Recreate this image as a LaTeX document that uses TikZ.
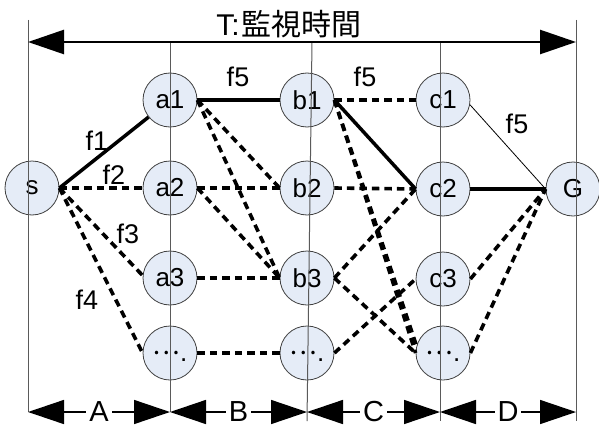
\documentclass[tikz,border=0pt]{standalone}
\usepackage{fontspec}
\setmainfont{Liberation Sans}
\newfontfamily\cjk{Noto Sans CJK JP}
\usetikzlibrary{arrows.meta}
\definecolor{nodefill}{RGB}{229,236,247}
\definecolor{rulegray}{RGB}{90,90,90}

% text of the open-ended stations: centred dots, then a low period
\newcommand{\moredots}{\smash{{\cjk\raisebox{-1pt}{…}}\raisebox{-8pt}{.}}}

\tikzset{
  stn/.style={circle, draw=black!75, line width=0.8pt, fill=nodefill,
    minimum size=54pt, inner sep=0pt, font=\fontsize{26}{30}\selectfont},
  route/.style={line width=3.5pt},
  alt/.style={line width=3.6pt, dash pattern=on 7.5pt off 5pt},
  thinroute/.style={line width=0.8pt},
  divider/.style={draw=rulegray, line width=1pt},
  flow/.style={font=\fontsize{27}{30}\selectfont, inner sep=0pt},
  bigtip/.tip={Triangle[length=36pt,width=24pt]},
  spanarrow/.style={line width=1.5pt, bigtip-bigtip},
  toparrow/.style={line width=2.5pt, bigtip-bigtip},
  seglabel/.style={fill=white, inner xsep=3pt, inner ysep=0pt,
    font=\fontsize{29}{30}\selectfont},
}

\begin{document}
\begin{tikzpicture}[x=1pt, y=-1pt]
\useasboundingbox (0,0) rectangle (599,428);

% stations
\node[stn] (s)  at (32,188)  {s};
\node[stn] (a1) at (170,100) {a1};
\node[stn] (a2) at (170,188) {a2};
\node[stn] (a3) at (170,278) {a3};
\node[stn] (a4) at (170,353) {\moredots};
\node[stn] (b1) at (307,100) {b1};
\node[stn] (b2) at (307,188) {b2};
\node[stn] (b3) at (307,278) {b3};
\node[stn] (b4) at (307,353) {\moredots};
\node[stn] (c1) at (443,100) {c1};
\node[stn] (c2) at (443,189) {c2};
\node[stn] (c3) at (443,279) {c3};
\node[stn] (c4) at (443,353) {\moredots};
\node[stn] (G)  at (573,189) {G};

% chosen route
\draw[route] (s.east) -- (a1);
\draw[route] (a1.east) -- (b1.west);
\draw[route] (b1.east) -- (c2.west);
\draw[route] (c2.east) -- (G.west);
\draw[thinroute] (c1.-10) -- (G.west);

% alternative routes
\draw[alt] (s.east) -- (a2.west);
\draw[alt] (s.east) -- (a3.175);
\draw[alt] (s.east) -- (a4.west);
\draw[alt] (a1.east) -- (b2.west);
\draw[alt] (a1.east) -- (b3.west);
\draw[alt] (a2.east) -- (b2.west);
\draw[alt] (a2.east) -- (b3.west);
\draw[alt] (a3.east) -- (b3.west);
\draw[alt] (a4.east) -- (b4.west);
\draw[alt] (b1.east) -- (c1.west);
\draw[alt] (b1.east) -- (c4.west);
\draw[alt] (b1.east) -- (c4.165);
\draw[alt] (b2.east) -- (c2.west);
\draw[alt] (b3.east) -- (c2.west);
\draw[alt] (b3.east) -- (c4.west);
\draw[alt] (b4.east) -- (c3.west);
\draw[alt] (c3.east) -- (G.west);
\draw[alt] (c4.east) -- (G.west);

% flow labels
\node[flow] (f1)  at (97,141)  {f1};
\node[flow] (f2)  at (114,175) {f2};
\node[flow] (f3)  at (128,234) {f3};
\node[flow] (f4)  at (87,300)  {f4};
\node[flow] (f5a) at (238,77)  {f5};
\node[flow] (f5b) at (365,77)  {f5};
\node[flow] (f5c) at (517,124) {f5};

% period dividers
\coordinate (T0) at (28,42);
\coordinate (T1) at (576,42);
\coordinate (B0) at (28,412);
\coordinate (B1) at (170,412);
\coordinate (B2) at (307,412);
\coordinate (B3) at (440,412);
\coordinate (B4) at (576,412);
\draw[divider] (28,20) -- (28,412);
\draw[divider] (170,42) -- (170,412);
\draw[divider] (312,42) -- (307,421);
\draw[divider] (440,42) -- (440,421);
\draw[divider] (576,20) -- (576,421);

% monitoring time
\draw[toparrow] (T0) -- (T1);
\node[font=\fontsize{30}{34}\selectfont, inner sep=0pt] (title) at (289,24) {T:\kern2pt{\cjk 監視時間}};

% periods
\draw[spanarrow] (B0) -- (B1) node[midway, seglabel] (lA) {A};
\draw[spanarrow] (B1) -- (B2) node[midway, seglabel] (lB) {B};
\draw[spanarrow] (B2) -- (B3) node[midway, seglabel] (lC) {C};
\draw[spanarrow] (B3) -- (B4) node[midway, seglabel] (lD) {D};
\end{tikzpicture}
\end{document}
